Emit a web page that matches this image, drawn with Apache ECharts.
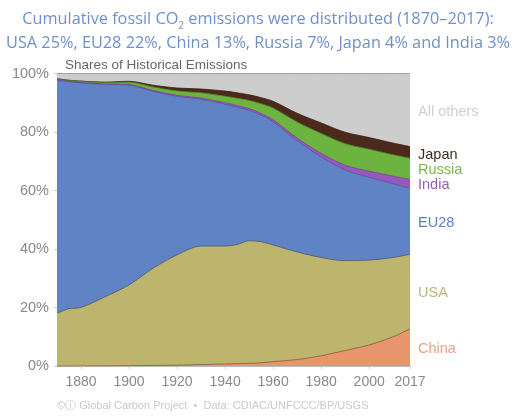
<!DOCTYPE html>
<html>
<head>
<meta charset="utf-8">
<script src="https://cdn.jsdelivr.net/npm/echarts@6/dist/echarts.min.js"></script>
<style>
html,body{margin:0;padding:0;background:#fff;}
#c{width:516px;height:416px;}
</style>
</head>
<body>
<div id="c"></div>
<script>
// Data (shares of cumulative emissions, %)
const years  = [1870, 1875, 1880, 1890, 1900, 1910, 1920, 1930, 1940, 1945, 1950, 1955, 1960, 1970, 1980, 1990, 2000, 2010, 2017];
const china  = [0,    0,    0,    0.05, 0.1,  0.2,  0.3,  0.5,  0.7,  0.8,  0.9,  1.1,  1.5,  2.2,  3.5,  5.3,  7.2,  10.0, 12.7];
const usa    = [18,   19.6, 20,   23.6, 27.6, 33.2, 37.7, 40.5, 40.3, 40.7, 41.9, 41.4, 39.9, 36.8, 33.6, 30.7, 29.0, 27.1, 25.5];
const eu28   = [79.8, 77.6, 76.8, 72.6, 68.3, 60.5, 54.2, 50.2, 48.5, 47.0, 44.6, 43.2, 42.1, 38.0, 34.4, 31.0, 28.3, 25.2, 22.5];
const india  = [0.1,  0.12, 0.15, 0.2,  0.25, 0.3,  0.35, 0.4,  0.5,  0.55, 0.6,  0.65, 0.7,  0.9,  1.2,  1.6,  2.1,  2.6,  3.1];
const russia = [0.3,  0.35, 0.4,  0.5,  0.8,  1.2,  1.5,  1.8,  2.2,  2.5,  2.8,  3.3,  4.0,  5.5,  6.8,  7.4,  7.5,  7.3,  7.2];
const japan  = [0.0,  0.02, 0.05, 0.1,  0.3,  0.6,  1.0,  1.3,  1.8,  1.85, 1.9,  2.1,  2.3,  3.0,  3.6,  3.9,  4.0,  4.0,  4.0];
const xTickLabels = [1880, 1900, 1920, 1940, 1960, 1980, 2000, 2017];
const yTicks = [0, 20, 40, 60, 80, 100];

const others = years.map((y, i) => +(100 - china[i] - usa[i] - eu28[i] - india[i] - russia[i] - japan[i]).toFixed(2));

const seriesDefs = [
  {name: 'China',      data: china,  color: '#E8946C', line: '#8a5a3a'},
  {name: 'USA',        data: usa,    color: '#BDB56E', line: '#4f5a66'},
  {name: 'EU28',       data: eu28,   color: '#5F83C5', line: '#6a4fa0'},
  {name: 'India',      data: india,  color: '#9459BA', line: '#7a45a0'},
  {name: 'Russia',     data: russia, color: '#6DB33F', line: '#4a8a2a'},
  {name: 'Japan',      data: japan,  color: '#4B2A1C', line: '#3a2015'},
  {name: 'All others', data: others, color: '#CDCDCD', line: '#8a8a8a'}
];

// cumulative stacking (bottom to top)
const running = years.map(() => 0);
const stacked = seriesDefs.map(s => {
  const pts = years.map((y, i) => {
    running[i] += s.data[i];
    return [y, +running[i].toFixed(3)];
  });
  return Object.assign({}, s, {pts});
});

const chart = echarts.init(document.getElementById('c'), null, {renderer: 'canvas'});
const labelFont = '"Liberation Sans", Arial, sans-serif';

// draw top series first so lower ones paint over
const drawOrder = stacked.slice().reverse();

chart.setOption({
  animation: false,
  backgroundColor: '#fff',
  title: [{
    text: 'Cumulative fossil CO{sub|2} emissions were distributed (1870–2017):\nUSA 25%, EU28 22%, China 13%, Russia 7%, Japan 4% and India 3%',
    left: 'center',
    top: 2,
    textStyle: {
      fontFamily: '"Open Sans", sans-serif',
      fontSize: 16.3,
      fontWeight: 'normal',
      color: '#6E8FC9',
      lineHeight: 24,
      rich: {
        sub: {fontSize: 10, color: '#6E8FC9', fontFamily: '"Open Sans", sans-serif', verticalAlign: 'bottom', padding: [10, 0, 0, 0]}
      }
    }
  }, {
    text: 'Shares of Historical Emissions',
    left: 60,
    top: 53,
    textStyle: {fontFamily: labelFont, fontSize: 13.5, fontWeight: 'normal', color: '#666'}
  }],
  grid: {left: 57, right: 106, top: 73.5, bottom: 50},
  xAxis: {
    type: 'value',
    min: 1870,
    max: 2017,
    axisLine: {show: true, lineStyle: {color: '#bbb'}},
    axisTick: {show: true, customValues: xTickLabels, length: 3, lineStyle: {color: '#ccc'}},
    splitLine: {show: false},
    axisLabel: {
      customValues: xTickLabels,
      formatter: v => String(v),
      color: '#888',
      fontSize: 14,
      fontFamily: labelFont,
      margin: 9
    }
  },
  yAxis: {
    type: 'value',
    min: 0,
    max: 100,
    axisLine: {show: false},
    axisTick: {show: true, customValues: yTicks, length: 3, lineStyle: {color: '#ccc'}},
    splitLine: {show: false},
    axisLabel: {
      customValues: yTicks,
      formatter: v => v + '%',
      color: '#888',
      fontSize: 14.5,
      fontFamily: labelFont,
      margin: 8
    }
  },
  series: drawOrder.map(s => ({
    name: s.name,
    type: 'line',
    smooth: 0.3,
    symbol: 'none',
    data: s.pts,
    lineStyle: {width: 0.8, color: s.line},
    areaStyle: {color: s.color, opacity: 1, origin: 'start'},
    itemStyle: {color: s.color}
  })),
  graphic: [
    {type: 'text', left: 418, top: 104, style: {text: 'All others', fill: '#CFCFCF', font: '14.5px "Liberation Sans", Arial, sans-serif'}},
    {type: 'text', left: 418, top: 147, style: {text: 'Japan', fill: '#3C2A20', font: '14.5px "Liberation Sans", Arial, sans-serif'}},
    {type: 'text', left: 418, top: 162, style: {text: 'Russia', fill: '#7DB64A', font: '14.5px "Liberation Sans", Arial, sans-serif'}},
    {type: 'text', left: 418, top: 177, style: {text: 'India', fill: '#9A5AB8', font: '14.5px "Liberation Sans", Arial, sans-serif'}},
    {type: 'text', left: 418, top: 215, style: {text: 'EU28', fill: '#5B80C2', font: '14.5px "Liberation Sans", Arial, sans-serif'}},
    {type: 'text', left: 418, top: 285, style: {text: 'USA', fill: '#BDB57C', font: '14.5px "Liberation Sans", Arial, sans-serif'}},
    {type: 'text', left: 418, top: 341, style: {text: 'China', fill: '#E8A284', font: '14.5px "Liberation Sans", Arial, sans-serif'}},
    {type: 'text', left: 57, top: 400, style: {text: '©ⓘ Global Carbon Project  •  Data: CDIAC/UNFCCC/BP/USGS', fill: '#C9C9C9', font: '11px "Liberation Sans", Arial, sans-serif'}}
  ]
});
</script>
</body>
</html>
